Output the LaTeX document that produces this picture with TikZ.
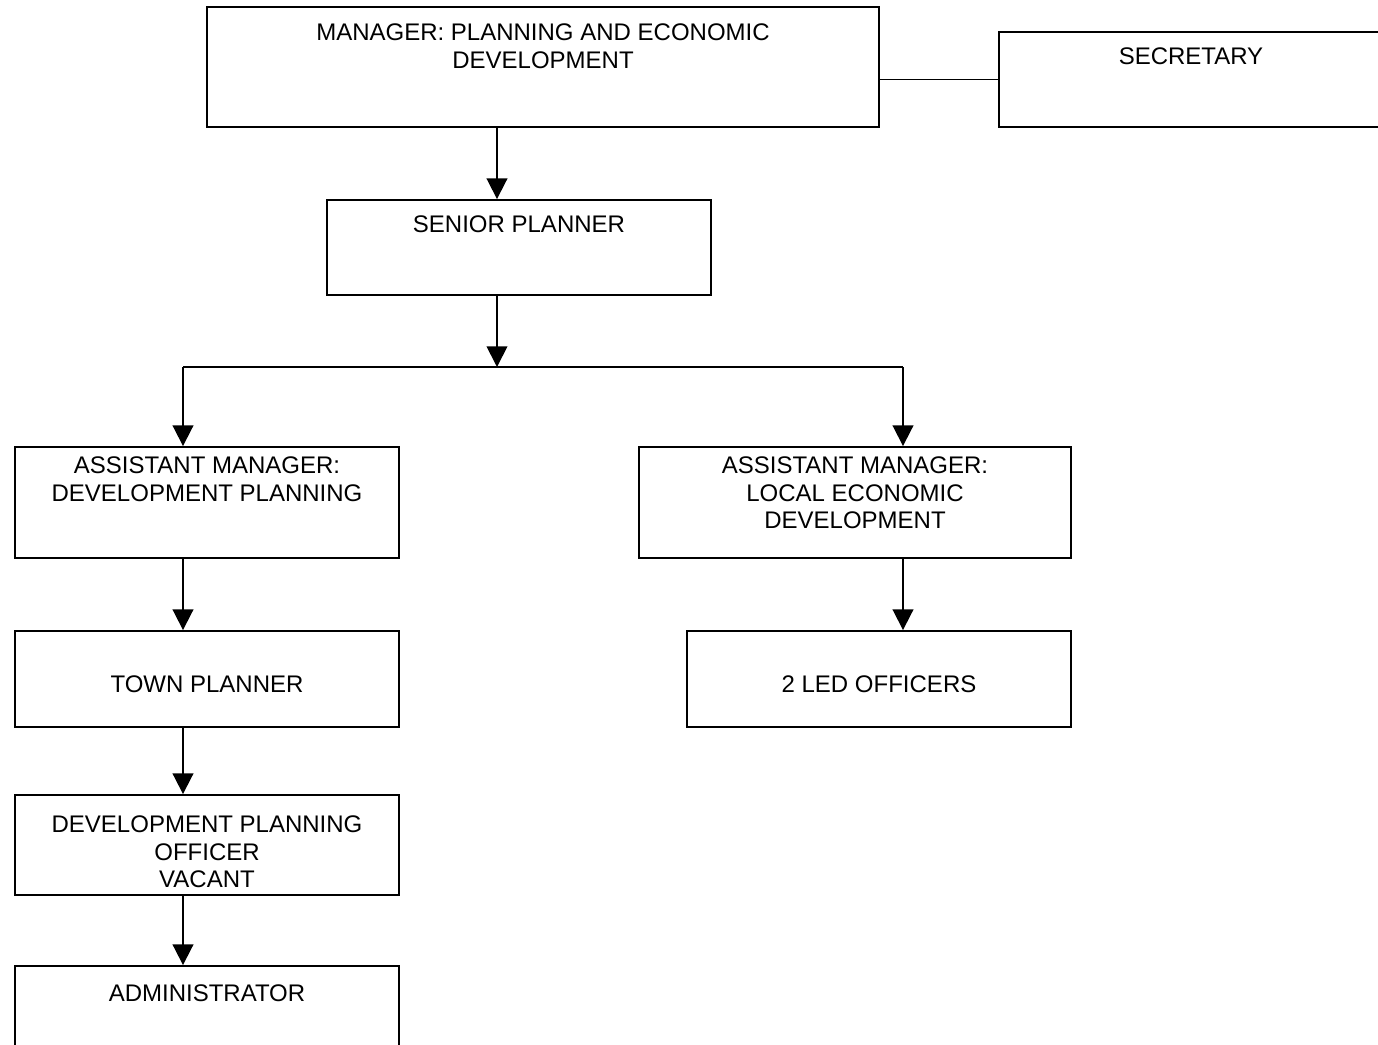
\documentclass[tikz,border=0pt]{standalone}
\usepackage{fontspec}
\setmainfont{Liberation Sans}
\usetikzlibrary{arrows.meta,fit}
\begin{document}
\begin{tikzpicture}[x=0.75pt,y=-0.75pt,
  box/.style={draw, line width=1.4pt, inner sep=0pt},
  lbl/.style={anchor=north, inner sep=0pt, align=center,
              font=\fontsize{18pt}{20.7pt}\selectfont},
  arr/.style={line width=1.4pt, -{Triangle[width=15.5pt,length=15.5pt]}},
  link/.style={line width=1.4pt}]
\clip (0,0) rectangle (1378,1045);
\useasboundingbox (0,0) rectangle (1378,1045);

% boxes
\node[box, fit={(207,7) (879,127)}]     (mgr)   {};
\node[box, fit={(999,32) (1383,127)}]   (sec)   {};
\node[box, fit={(327,200) (711,295)}]   (sp)    {};
\node[box, fit={(15,447) (399,558)}]    (amdp)  {};
\node[box, fit={(639,447) (1071,558)}]  (amled) {};
\node[box, fit={(15,631) (399,727)}]    (tp)    {};
\node[box, fit={(687,631) (1071,727)}]  (led)   {};
\node[box, fit={(15,795) (399,895)}]    (dpo)   {};
\node[box, fit={(15,966) (399,1070)}]   (adm)   {};

% texts
\node[lbl] (mgrT)   at (mgr.north |- 0,23.5)   {MANAGER: PLANNING AND ECONOMIC\\DEVELOPMENT};
\node[lbl] (secT)   at (sec.north |- 0,47.5)   {SECRETARY};
\node[lbl] (spT)    at (sp.north |- 0,215.5)   {SENIOR PLANNER};
\node[lbl] (amdpT)  at (amdp.north |- 0,456.5) {ASSISTANT MANAGER:\\DEVELOPMENT PLANNING};
\node[lbl] (amledT) at (amled.north |- 0,456.5) {ASSISTANT MANAGER:\\LOCAL ECONOMIC\\DEVELOPMENT};
\node[lbl] (tpT)    at (tp.north |- 0,675.5)   {TOWN PLANNER};
\node[lbl] (ledT)   at (led.north |- 0,675.5)  {2 LED OFFICERS};
\node[lbl] (dpoT)   at (dpo.north |- 0,815.5)  {DEVELOPMENT PLANNING\\OFFICER\\VACANT};
\node[lbl] (admT)   at (adm.north |- 0,984.5)  {ADMINISTRATOR};

% connectors
\coordinate (stem)  at (497,0);
\coordinate (split) at (497,367);
\coordinate (lft)   at (183,367);
\coordinate (rgt)   at (903,367);

\draw[link] (mgr.east |- sec.west) -- (sec.west);
\draw[arr] (mgr.south -| stem) -- (sp.north -| stem);
\draw[arr] (sp.south -| stem) -- (split);
\draw[link] (lft) -- (rgt);
\draw[arr] (lft) -- (amdp.north -| lft);
\draw[arr] (rgt) -- (amled.north -| rgt);
\draw[arr] (amdp.south -| lft) -- (tp.north -| lft);
\draw[arr] (tp.south -| lft) -- (dpo.north -| lft);
\draw[arr] (dpo.south -| lft) -- (adm.north -| lft);
\draw[arr] (amled.south -| rgt) -- (led.north -| rgt);
\end{tikzpicture}
\end{document}
